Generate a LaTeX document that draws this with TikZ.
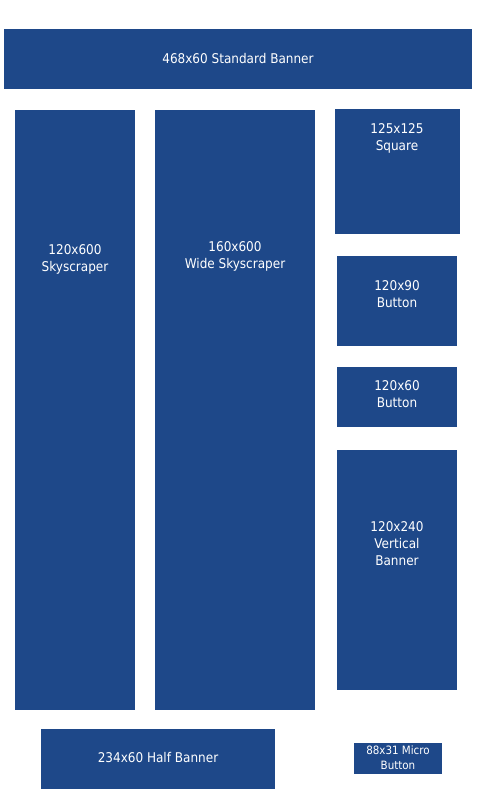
\documentclass[tikz,border=0pt]{standalone}
\usepackage{fontspec}
\setmainfont{DejaVu Sans Condensed}
\definecolor{adblue}{RGB}{30,72,137}

\begin{document}
\begin{tikzpicture}[x=0.75pt,y=0.75pt,yscale=-1,xscale=1,
    adbox/.style={fill=adblue,draw=none},
    adlabel/.style={text=white,align=center,inner sep=0pt,font=\fontsize{10.05}{12.75}\selectfont},
    microlabel/.style={text=white,align=center,inner sep=0pt,font=\fontsize{8.6}{11}\selectfont}]
        \useasboundingbox (0,0) rectangle (476,800);
        
        %Shape: Rectangles
        \fill [adbox] (4,29) rectangle (472,89) ;
        \fill [adbox] (15,110) rectangle (135,710) ;
        \fill [adbox] (155,110) rectangle (315,710) ;
        \fill [adbox] (335,109) rectangle (460,234) ;
        \fill [adbox] (337,256) rectangle (457,346) ;
        \fill [adbox] (337,367) rectangle (457,427) ;
        \fill [adbox] (337,450) rectangle (457,690) ;
        \fill [adbox] (41,729) rectangle (275,789) ;
        \fill [adbox] (354,743) rectangle (442,774) ;
        
        % Text Nodes
        \node (standard) at (238,59) [adlabel] {468x60 Standard Banner};
        \node (skyscraper) at (75,259.5) [adlabel] {120x600\\Skyscraper};
        \node (wide) at (235,256) [adlabel] {160x600\\Wide Skyscraper};
        \node (square) at (397,138.5) [adlabel] {125x125\\Square};
        \node (button90) at (397,294.5) [adlabel] {120x90\\Button};
        \node (button60) at (397,394.5) [adlabel] {120x60\\Button};
        \node (vertical) at (397,544) [adlabel] {120x240\\Vertical\\Banner};
        \node (half) at (158,757) [adlabel] {234x60 Half Banner};
        \node (micro) at (398,757.5) [microlabel] {88x31 Micro\\Button};
    \end{tikzpicture}
\end{document}
